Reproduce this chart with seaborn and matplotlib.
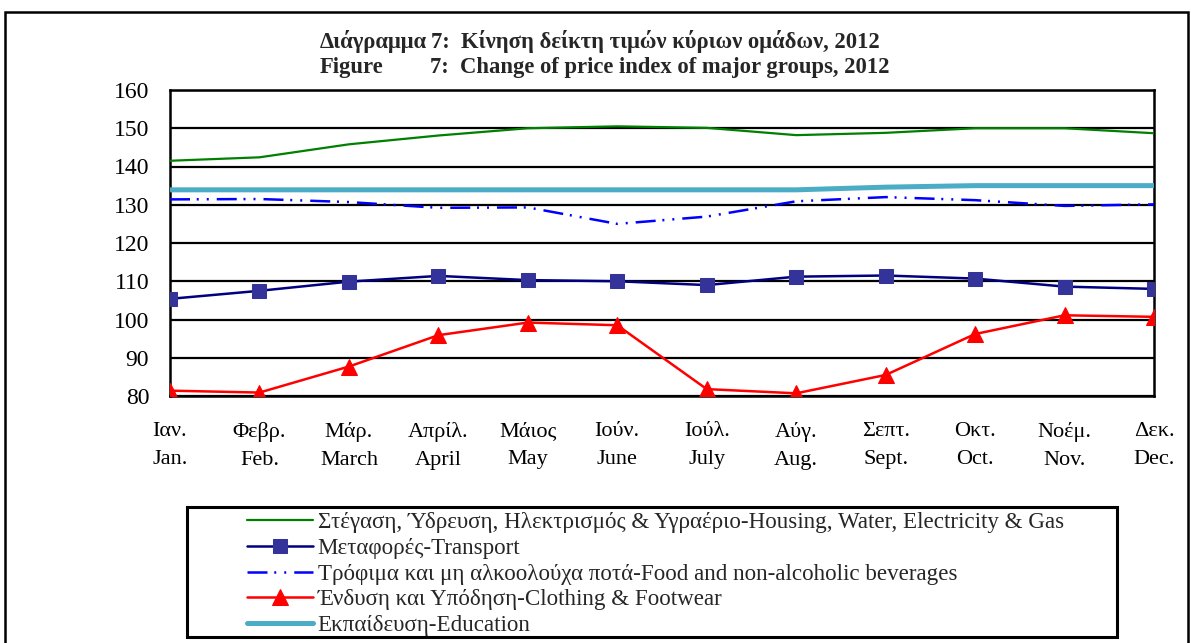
import numpy as np
import pandas as pd
import matplotlib
matplotlib.use("Agg")
import matplotlib.pyplot as plt
import seaborn as sns
from matplotlib.patches import Rectangle

# ---------------- data ----------------
months_gr = ["Ιαν.", "Φεβρ.", "Μάρ.", "Απρίλ.", "Μάιος", "Ιούν.",
             "Ιούλ.", "Αύγ.", "Σεπτ.", "Οκτ.", "Νοέμ.", "Δεκ."]
months_en = ["Jan.", "Feb.", "March", "April", "May", "June",
             "July", "Aug.", "Sept.", "Oct.", "Nov.", "Dec."]

housing = [141.5, 142.4, 145.8, 148.1, 150.0, 150.5, 150.1, 148.2, 148.8, 150.0, 150.0, 148.7]
transport = [105.4, 107.5, 109.9, 111.4, 110.3, 110.0, 109.0, 111.2, 111.5, 110.7, 108.6, 108.0]
food = [131.4, 131.5, 130.7, 129.2, 129.3, 125.0, 126.9, 130.9, 132.0, 131.2, 129.7, 130.1]
clothing = [81.4, 80.9, 87.7, 95.9, 99.2, 98.5, 81.8, 80.7, 85.5, 96.2, 101.1, 100.7]
education = [133.9, 133.9, 133.9, 133.9, 133.9, 133.9, 133.9, 133.9, 134.6, 135.0, 135.0, 135.0]

labels = [
    "Στέγαση, Ύδρευση, Ηλεκτρισμός & Υγραέριο-Housing, Water, Electricity & Gas",
    "Μεταφορές-Transport",
    "Τρόφιμα και μη αλκοολούχα ποτά-Food and non-alcoholic beverages",
    "Ένδυση και Υπόδηση-Clothing & Footwear",
    "Εκπαίδευση-Education",
]
yticks = [80, 90, 100, 110, 120, 130, 140, 150, 160]

title_gr_a, title_gr_b = "Διάγραμμα", "7:  Κίνηση δείκτη τιμών κύριων ομάδων, 2012"
title_en_a, title_en_b = "Figure", "7:  Change of price index of major groups, 2012"

# ---------------- style ----------------
sns.set_theme(style="white")
plt.rcParams["font.family"] = ["Liberation Serif", "DejaVu Serif"]

W, H = 1191, 643
fig = plt.figure(figsize=(W / 100, H / 100), dpi=100)
fig.patch.set_facecolor("white")

def fx(px):
    return px / W

def fy(py):
    return 1 - py / H

ax = fig.add_axes([fx(170), fy(396), fx(1154) - fx(170), fy(90) - fy(396)])

cats = [f"{g}\n{e}" for g, e in zip(months_gr, months_en)]
df = pd.DataFrame({"month": cats, "housing": housing, "transport": transport,
                   "food": food, "clothing": clothing, "education": education})

sns.lineplot(data=df, x="month", y="housing", ax=ax, color="#008000", lw=1.6,
             label=labels[0], sort=False, zorder=3)
sns.lineplot(data=df, x="month", y="transport", ax=ax, color="#000080", lw=1.8,
             marker="s", markersize=9.5, markerfacecolor="#333399",
             markeredgecolor="#333399", label=labels[1], sort=False, zorder=4)
sns.lineplot(data=df, x="month", y="food", ax=ax, color="#0000FF", lw=1.8,
             label=labels[2], sort=False, zorder=3)
ax.lines[-1].set_dashes([8, 2.7, 0.8, 3.2, 0.8, 3.2])
sns.lineplot(data=df, x="month", y="clothing", ax=ax, color="#FF0000", lw=1.8,
             marker="^", markersize=11, markerfacecolor="#FF0000",
             markeredgecolor="#FF0000", label=labels[3], sort=False, zorder=4)
sns.lineplot(data=df, x="month", y="education", ax=ax, color="#4BACC6", lw=3.6,
             label=labels[4], sort=False, zorder=3)

ax.set_xlim(0, len(cats) - 1)
ax.set_ylim(80, 160)
ax.set_yticks(yticks)
ax.set_xlabel("")
ax.set_ylabel("")
ax.yaxis.grid(True, color="black", lw=1.6)
ax.xaxis.grid(False)
ax.set_axisbelow(True)
for s in ax.spines.values():
    s.set_color("black")
    s.set_linewidth(1.8)
ax.tick_params(axis="both", which="both", direction="out", color="black",
               length=5, width=1.4, labelcolor="black")
ax.tick_params(axis="x", pad=14, labelsize=16)
ax.tick_params(axis="y", pad=10, labelsize=17)
for t in ax.get_xticklabels():
    t.set_linespacing(1.62)

# legend (drawn in figure coords, with its own box)
handles, labs = ax.get_legend_handles_labels()
ax.get_legend().remove()
leg = fig.legend(handles, labs, loc="upper left",
                 bbox_to_anchor=(fx(247), fy(512)), bbox_transform=fig.transFigure,
                 frameon=False, fontsize=16.6, handlelength=2.85, handletextpad=0.22,
                 labelspacing=0.2, borderpad=0, borderaxespad=0)

fig.add_artist(Rectangle((fx(187), fy(637)), fx(1117) - fx(187), fy(507) - fy(637),
                         transform=fig.transFigure, facecolor="white",
                         edgecolor="black", lw=2.2, zorder=2))
leg.set_zorder(5)

# outer frame
fig.add_artist(Rectangle((fx(5), -0.1), fx(1188) - fx(5), fy(12) + 0.1,
                         transform=fig.transFigure, facecolor="none",
                         edgecolor="black", lw=1.8, clip_on=False))

# titles
tkw = dict(ha="left", va="baseline", fontsize=16.3, fontweight="bold")
fig.text(fx(320), fy(48), title_gr_a, **tkw)
fig.text(fx(431), fy(48), title_gr_b, **tkw)
fig.text(fx(320), fy(73), title_en_a, **tkw)
fig.text(fx(430), fy(73), title_en_b, **tkw)

fig.savefig("out.png", dpi=100)
